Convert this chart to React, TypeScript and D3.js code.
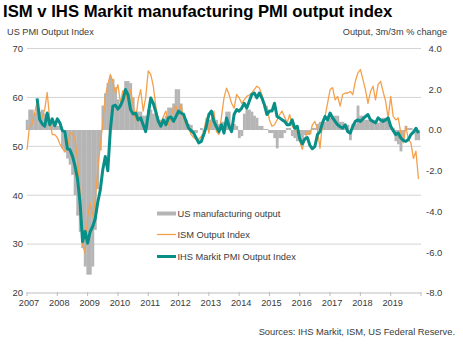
import React from 'react';
import * as d3 from 'd3';

// monthly, Jan 2007 .. Dec 2019
const years = ['2007', '2008', '2009', '2010', '2011', '2012', '2013', '2014', '2015', '2016', '2017', '2018', '2019'];
const leftTicks = [20, 30, 40, 50, 60, 70];
const rightTicks = [-8, -6, -4, -2, 0, 2, 4];

// ISM output index
const ism = [
  49.3, 54.1, 54.5, 56.8, 59.0, 55.5, 55.8, 57.5, 61.0, 55.5,
  52.4, 52.4, 51.8, 50.5, 49.6, 48.9, 49.6, 52.7, 52.7, 51.4,
  47.3, 40.4, 30.0, 28.1, 35.6, 38.4, 35.6, 39.1, 45.2, 50.0,
  54.8, 60.2, 62.6, 64.7, 63.3, 60.9, 62.6, 58.9, 61.4, 61.4,
  58.9, 61.6, 58.8, 55.1, 59.5, 61.6, 57.2, 60.0, 65.4, 64.7,
  62.3, 58.2, 55.5, 54.8, 56.1, 57.2, 54.4, 56.0, 57.8, 58.2,
  56.5, 58.5, 55.4, 54.5, 53.7, 52.4, 51.8, 51.4, 51.4, 52.0,
  53.0, 55.8, 52.7, 55.5, 57.2, 53.0, 52.4, 56.0, 59.9, 61.9,
  60.6, 58.8, 57.8, 60.6, 59.9, 58.8, 59.5, 60.2, 60.5, 60.9,
  61.6, 62.3, 61.9, 60.6, 57.8, 58.2, 55.4, 54.1, 54.4, 55.4,
  56.5, 57.2, 56.0, 54.8, 56.5, 54.1, 53.5, 53.0, 51.0, 49.4,
  51.5, 53.0, 52.4, 54.4, 55.1, 53.4, 49.6, 54.8, 56.1, 58.8,
  61.6, 62.0, 59.5, 60.2, 58.2, 60.6, 60.9, 60.9, 61.2, 60.6,
  63.3, 65.0, 65.7, 63.7, 61.6, 58.8, 61.2, 62.3, 59.5, 62.6,
  63.3, 61.2, 59.2, 55.8, 60.2, 56.1, 55.4, 55.8, 52.7, 50.7,
  54.1, 51.4, 50.7, 47.5, 49.0, 43.3,
];

// IHS Markit PMI output index (series starts May 2007)
const pmi: (number | null)[] = [
  null, null, null, null, 59.8, 55.5, 54.6, 54.1, 56.8, 54.4,
  55.6, 54.2, 55.6, 54.8, 53.2, 53.0, 49.5, 49.3, 48.0, 46.0,
  43.3, 38.5, 30.5, 32.6, 30.2, 32.5, 33.6, 35.2, 38.5, 41.0,
  45.2, 47.9, 45.0, 53.4, 58.2, 58.4, 57.6, 58.3, 59.5, 61.6,
  60.5, 57.5, 56.6, 56.8, 55.4, 55.8, 54.4, 53.0, 56.5, 59.9,
  58.8, 57.0, 55.1, 54.1, 55.4, 54.4, 55.8, 56.0, 55.1, 56.1,
  57.2, 56.8, 56.5, 55.1, 53.7, 53.2, 52.7, 51.7, 50.7, 51.0,
  52.4, 54.1, 56.5, 57.2, 55.1, 54.0, 53.0, 54.4, 52.7, 55.8,
  54.1, 53.0, 56.5, 57.5, 57.2, 57.8, 58.8, 57.8, 59.2, 60.6,
  60.9, 59.9, 60.9, 59.9, 58.5, 56.5, 57.2, 57.2, 58.8, 56.1,
  55.8, 55.4, 55.1, 54.4, 54.4, 55.4, 53.7, 54.1, 51.5, 50.5,
  51.5, 51.8, 50.2, 49.5, 50.0, 52.4, 53.0, 54.8, 56.1, 55.4,
  56.8, 55.8, 55.1, 54.4, 54.0, 53.7, 54.4, 53.0, 52.7, 54.1,
  55.1, 55.4, 55.1, 55.6, 56.1, 56.5, 55.4, 55.1, 54.8, 55.8,
  55.4, 55.1, 55.4, 55.8, 54.1, 53.2, 52.4, 52.7, 51.7, 51.2,
  51.0, 51.4, 52.4, 52.9, 53.7, 52.7,
];

// US manufacturing output, 3m/3m % change
const output = [
  0.5, 1.0, 1.0, 0.85, 1.2, 0.9, 1.0, 0.8, 0.6, 0.5,
  0.4, 0.3, 0.2, 0.2, -0.9, -1.1, -1.4, -1.7, -2.2, -3.2,
  -4.2, -5.0, -5.8, -6.7, -7.1, -7.1, -6.7, -4.9, -2.9, -1.0,
  1.2, 1.8, 2.3, 2.6, 2.5, 2.1, 1.5, 1.3, 1.9, 2.4,
  2.4, 2.3, 1.6, 0.9, 0.9, 0.9, 0.7, 0.7, 1.0, 1.0,
  0.8, 0.8, 0.5, 0.5, 0.5, 0.7, 1.1, 1.1, 1.3, 2.0,
  2.0, 1.3, 0.85, 0.5, 0.3, 0.25, -0.1, -0.15, 0.0, 0.1,
  -0.1, 0.2, 0.5, 0.5, 0.5, 0.5, 0.3, 0.4, 0.4, 0.9,
  0.9, 0.3, 0.3, 0.2, -0.4, -0.3, 0.8, 1.0, 1.0, 0.9,
  0.7, 0.6, 0.2, 0.2, 0.05, 0.05, -0.15, -0.15, -0.4, -0.9,
  -0.4, -0.4, -0.15, 0.1, 0.1, -0.3, -0.4, -0.55, -0.55, -0.55,
  -0.25, -0.25, -0.2, 0.1, 0.1, 0.3, 0.4, 0.4, 0.4, 0.6,
  0.6, 0.7, 0.7, 0.7, 0.4, 0.4, 0.25, 0.25, -0.5, 0.3,
  0.3, 1.2, 0.7, 0.7, 0.5, 0.5, 0.5, 0.4, 0.4, 0.35,
  0.5, 0.6, 0.6, 0.6, 0.1, 0.1, -0.55, -0.7, -1.05, -0.5,
  0.2, 0.1, 0.1, 0.0, -0.5, -0.5,
];

const legend = ['US manufacturing output', 'ISM Output Index', 'IHS Markit PMI Output Index'];

const W = 463, H = 351;
const FONT = '"Liberation Sans", Arial, sans-serif';
const GREY = '#b5b5b5', ORANGE = '#f5a04a', TEAL = '#088f88', GRID = '#d4d4d4', TXT = '#3a3a3a';

export default function App() {
  const x = d3.scaleLinear().domain([0, 156]).range([27, 421]);
  const yL = d3.scaleLinear().domain([20, 70]).range([293, 48.5]);
  const yR = d3.scaleLinear().domain([-8, 4]).range([293, 48.5]);
  const step = x(1) - x(0);

  const lineL = d3.line<number | null>()
    .defined(d => d != null)
    .x((_, i) => x(i))
    .y(d => yL(d as number));

  return (
    <svg width={W} height={H} style={{ position: 'fixed', left: 0, top: 0, background: '#fff' }} fontFamily={FONT}>
      <text x={3} y={17} fontSize={16.7} fontWeight="bold" fill="#000">ISM v IHS Markit manufacturing PMI output index</text>
      <text x={7} y={35} fontSize={9.2} fill={TXT}>US PMI Output Index</text>
      <text x={447} y={35} fontSize={9.2} fill={TXT} textAnchor="end">Output, 3m/3m % change</text>

      {leftTicks.slice(1).map(t => (
        <line key={t} x1={x(0)} x2={x(156)} y1={yL(t)} y2={yL(t)} stroke={GRID} strokeWidth={1} />
      ))}
      {leftTicks.map(t => (
        <text key={t} x={23} y={yL(t)} dy="0.35em" fontSize={9.5} fill={TXT} textAnchor="end">{t}</text>
      ))}
      {rightTicks.map(t => (
        <text key={t} x={t < 0 ? 426 : 428.5} y={yR(t)} dy="0.35em" fontSize={9.5} fill={TXT}>{t.toFixed(1)}</text>
      ))}

      <g>
        {output.map((v, i) => (
          <rect key={i} x={x(i) - step / 2} width={step + 0.3}
            y={Math.min(yR(0), yR(v))} height={Math.abs(yR(v) - yR(0))} fill={GREY} />
        ))}
      </g>

      <path d={lineL(ism) || ''} fill="none" stroke={ORANGE} strokeWidth={1.3} strokeLinejoin="round" />
      <path d={lineL(pmi) || ''} fill="none" stroke={TEAL} strokeWidth={3} strokeLinejoin="round" />

      <line x1={x(0)} x2={x(156)} y1={yL(20)} y2={yL(20)} stroke="#bdbdbd" />
      {years.map((y, i) => (
        <g key={y}>
          <line x1={x(i * 12)} x2={x(i * 12)} y1={yL(20) - 1} y2={yL(20) + 3} stroke="#bdbdbd" />
          <text x={x(i * 12) + 2} y={306} fontSize={9.2} fill={TXT} textAnchor="middle">{y}</text>
        </g>
      ))}
      <line x1={x(156)} x2={x(156)} y1={yL(20) - 1} y2={yL(20) + 3} stroke="#bdbdbd" />

      <g fontSize={9.3} fill={TXT}>
        <rect x={157} y={211.5} width={19} height={4} fill={GREY} />
        <text x={177.5} y={213.5} dy="0.35em">{legend[0]}</text>
        <line x1={157} x2={176} y1={234.5} y2={234.5} stroke={ORANGE} strokeWidth={1.3} />
        <text x={177.5} y={235} dy="0.35em">{legend[1]}</text>
        <line x1={157} x2={176} y1={256.5} y2={256.5} stroke={TEAL} strokeWidth={3} />
        <text x={177.5} y={257} dy="0.35em">{legend[2]}</text>
      </g>

      <text x={455} y={335} fontSize={9.3} fill={TXT} textAnchor="end">Sources: IHS Markit, ISM, US Federal Reserve.</text>
    </svg>
  );
}
